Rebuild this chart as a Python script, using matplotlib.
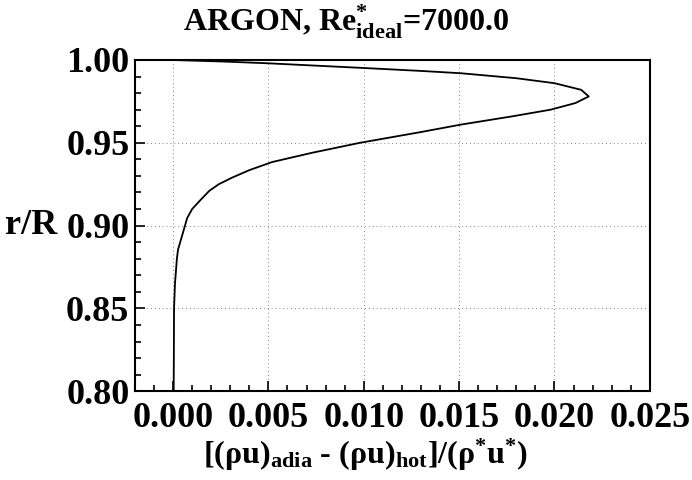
import matplotlib
matplotlib.use("Agg")
import matplotlib.pyplot as plt
from matplotlib.ticker import MultipleLocator

# mass flux difference profile
r_over_R = [0.800, 0.820, 0.850, 0.865, 0.880, 0.8855, 0.895, 0.9046, 0.910, 0.915,
            0.921, 0.925, 0.929, 0.9335, 0.9384, 0.944, 0.950, 0.9565, 0.961, 0.966,
            0.970, 0.974, 0.978, 0.982, 0.986, 0.989, 0.992, 0.9934, 0.995, 0.998,
            0.999, 1.000]
flux_diff = [0.00003, 0.00004, 0.00005, 0.0001, 0.0002, 0.00026, 0.0005, 0.00074, 0.0010, 0.0014,
             0.0019, 0.0024, 0.0031, 0.0040, 0.0052, 0.0073, 0.0098, 0.0130, 0.0151, 0.0178,
             0.0198, 0.0211, 0.0218, 0.0214, 0.0200, 0.0180, 0.0151, 0.0130, 0.0103, 0.0050,
             0.0028, 0.0000]

x_ticks = [0.000, 0.005, 0.010, 0.015, 0.020, 0.025]
y_ticks = [0.80, 0.85, 0.90, 0.95, 1.00]

plt.rcParams['font.family'] = 'Liberation Serif'
plt.rcParams['font.weight'] = 'bold'
plt.rcParams['mathtext.fontset'] = 'custom'
plt.rcParams['mathtext.rm'] = 'Liberation Serif:bold'
plt.rcParams['mathtext.it'] = 'Liberation Serif:bold'
plt.rcParams['mathtext.bf'] = 'Liberation Serif:bold'

fig = plt.figure(figsize=(6.92, 4.80), dpi=100)
ax = fig.add_axes([0.195, 0.185, 0.744, 0.69])

ax.plot(flux_diff, r_over_R, color='black', lw=1.3)

ax.set_xlim(-0.002, 0.025)
ax.set_ylim(0.80, 1.00)
ax.set_xticks(x_ticks)
ax.set_yticks(y_ticks)
ax.set_xticklabels([f"{v:.3f}" for v in x_ticks])
ax.set_yticklabels([f"{v:.2f}" for v in y_ticks])
ax.xaxis.set_minor_locator(MultipleLocator(0.001))
ax.yaxis.set_minor_locator(MultipleLocator(0.01))
ax.tick_params(which='both', direction='in', top=False, right=False, width=1.2)
ax.tick_params(which='major', length=7, labelsize=26)
ax.tick_params(axis='y', which='major', pad=4)
ax.tick_params(axis='x', which='major', pad=8)
ax.tick_params(which='minor', length=4)
for lbl in ax.get_xticklabels() + ax.get_yticklabels():
    lbl.set_fontweight('bold')
for s in ax.spines.values():
    s.set_linewidth(1.5)

ax.grid(True, which='major', color='gray', linestyle=(0, (1, 3)), lw=0.7)

fig.text(0.5, 1 - 22 / 480, r"ARGON, Re$^{*}_{\rm ideal}$=7000.0", fontsize=23,
         fontweight='bold', ha='center', va='center')
fig.text(365 / 692, 1 - 455 / 480, r"[(ρu)$_{\rm adia}$ - (ρu)$_{\rm hot}$]/(ρ$^{*}$u$^{*}$)",
         fontsize=23, fontweight='bold', ha='center', va='center')
fig.text(31 / 692, 1 - 226 / 480, "r/R", fontsize=26, fontweight='bold',
         ha='center', va='center')

fig.savefig("out.png", dpi=100)
